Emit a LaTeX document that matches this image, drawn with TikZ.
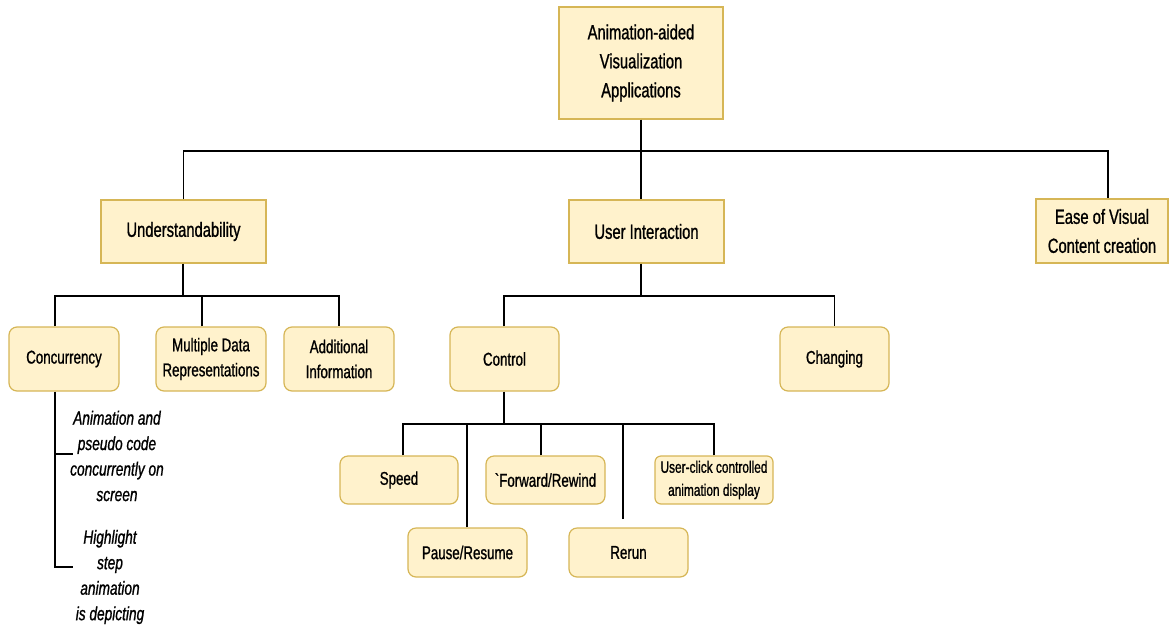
\documentclass[tikz,border=0pt]{standalone}
\usepackage{fontspec}
\setmainfont{Liberation Sans}[FakeStretch=0.72,FakeBold=1]
\newfontfamily\plainf{Liberation Sans}[FakeStretch=0.72,FakeBold=1]
\definecolor{boxfill}{HTML}{FFF2CC}
\definecolor{boxline}{HTML}{D6B656}
\begin{document}
\begin{tikzpicture}[x=1pt,y=-1pt,
  box/.style={draw=boxline, fill=boxfill, line width=1.2pt, align=center, inner sep=0pt},
  sharp/.style={box, font=\fontsize{20.5}{29}\selectfont},
  rnd/.style={box, rounded corners=8pt, font=\fontsize{18.5}{25}\selectfont},
  small/.style={box, rounded corners=6pt, font=\fontsize{16.5}{23}\selectfont},
  note/.style={align=center, inner sep=0pt, font=\fontsize{19}{25.5}\selectfont\itshape},
  conn/.style={line width=1.3pt, black}]
\useasboundingbox (0,0) rectangle (1169,627);
% top level
\node[sharp, minimum width=164pt, minimum height=112pt] (root) at (641,63) {\raisebox{-2pt}{\parbox{150pt}{\centering Animation-aided\\Visualization\\Applications}}};
\node[sharp, minimum width=165pt, minimum height=63pt] (und) at (183.5,231.5) {\raisebox{-2pt}{Understandability}};
\node[sharp, minimum width=155pt, minimum height=63pt] (ui) at (646.5,231.5) {\raisebox{-2pt}{User Interaction}};
\node[sharp, minimum width=132pt, minimum height=64pt] (ease) at (1102,231) {\raisebox{-2pt}{\parbox{130pt}{\centering Ease of Visual\\Content creation}}};
% level 2
\node[rnd, minimum width=110pt, minimum height=64pt] (conc) at (64,359) {\raisebox{-2pt}{Concurrency}};
\node[rnd, minimum width=110pt, minimum height=64pt] (mdr) at (211,359) {Multiple Data\\Representations};
\node[rnd, minimum width=110pt, minimum height=64pt] (addi) at (339,359) {Additional\\Information};
\node[rnd, minimum width=109pt, minimum height=64pt] (ctrl) at (504.5,359) {\raisebox{-2pt}{Control}};
\node[rnd, minimum width=109pt, minimum height=64pt] (chg) at (834.5,359) {\raisebox{-2pt}{Changing}};
% level 3
\node[rnd, minimum width=118pt, minimum height=48pt] (speed) at (399,480) {\raisebox{-2pt}{Speed}};
\node[rnd, minimum width=119pt, minimum height=48pt] (fwd) at (545.5,480) {\raisebox{-2pt}{{\plainf `}Forward/Rewind}};
\node[small, minimum width=118pt, minimum height=48pt] (uc) at (714,480) {User-click controlled\\animation display};
\node[rnd, minimum width=119pt, minimum height=49pt] (pause) at (467.5,552.5) {\raisebox{-2pt}{Pause/Resume}};
\node[rnd, minimum width=119pt, minimum height=49pt] (rerun) at (628.5,552.5) {\raisebox{-2pt}{Rerun}};
% notes
\node[note, anchor=west] (n1) at (70,456) {Animation and\\pseudo code\\concurrently on\\screen};
\node[note] (n2) at (110,577) {Highlight\\step\\animation\\is depicting};
% connectors top
\coordinate (b1) at (641,151);
\draw[conn] (root.south) -- (b1);
\draw[conn] (und.north) |- (b1) -| (ease.north -| 1108,0);
\draw[conn] (b1) -- (b1 |- ui.north);
% understandability
\coordinate (b2) at (183,296);
\draw[conn] (und.south -| b2) -- (b2);
\draw[conn] (conc.north -| 55,0) |- (b2) -| (addi.north);
\draw[conn] (mdr.north -| 202,0) -- (202,296);
% user interaction
\coordinate (b3) at (641,296);
\draw[conn] (ui.south -| b3) -- (b3);
\draw[conn] (ctrl.north -| 504,0) |- (b3) -| (chg.north);
% control
\coordinate (b4) at (504,424);
\draw[conn] (ctrl.south -| b4) -- (b4);
\draw[conn] (speed.north -| 403,0) |- (715,424);
\draw[conn] (pause.north -| 467,0) -- (467,424);
\draw[conn] (fwd.north -| 541,0) -- (541,424);
\coordinate (rr) at (623,519);
\draw[conn] (rr) -- (623,424);
\draw[conn] (uc.north -| 714,0) -- (714,424);
% concurrency
\coordinate (c1) at (55,454);
\coordinate (c2) at (55,567);
\draw[conn] (conc.south -| 55,0) -- (c2) -- (73,567);
\draw[conn] (c1) -- (73,454);
\end{tikzpicture}
\end{document}
